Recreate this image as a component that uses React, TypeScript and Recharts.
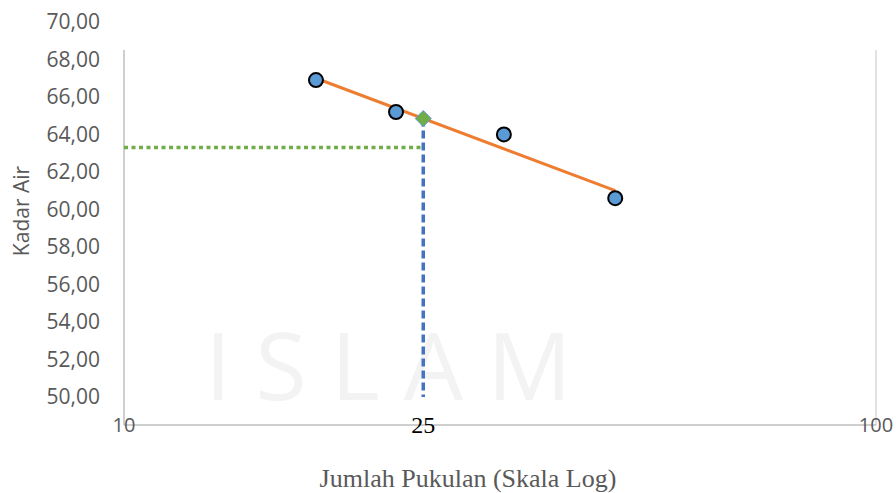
import { ComposedChart, Scatter, Line, XAxis, YAxis, ReferenceLine, Label } from 'recharts';

// hasil uji batas cair (jumlah pukulan vs kadar air)
const blows = [18, 23, 32, 45];
const moisture = [66.9, 65.2, 64.0, 60.6];

// garis trend (log)
const trendX = [18, 45];
const trendY = [67.0, 61.0];

// titik pada 25 pukulan
const targetBlow = 25;
const targetOnTrend = 64.85;
const liquidLimit = 63.3;

const xTicks = [10, 25, 100];
const yTicks = [50, 52, 54, 56, 58, 60, 62, 64, 66, 68, 70];

const points = blows.map((b, i) => ({ x: b, y: moisture[i] }));
const trend = trendX.map((t, i) => ({ x: t, y: trendY[i] }));
const marker = [{ x: targetBlow, y: targetOnTrend }];
const hLine = [{ x: 10, y: liquidLimit }, { x: targetBlow, y: liquidLimit }];
const vLine = [{ x: targetBlow, y: targetOnTrend }, { x: targetBlow, y: 50 }];

const gray = '#595959';
const sans = '"Open Sans", "DejaVu Sans", sans-serif';
const serif = '"Liberation Serif", "Times New Roman", serif';

const XTick = (props: any) => {
  const { x, y, payload } = props;
  const is25 = payload.value === targetBlow;
  return (
    <text
      x={x}
      y={y}
      dy="0.35em"
      textAnchor="middle"
      fill={is25 ? '#000' : gray}
      fontSize={is25 ? 24 : 20}
      fontFamily={is25 ? serif : sans}
    >
      {payload.value}
    </text>
  );
};

const Dot = (props: any) => (
  <circle cx={props.cx} cy={props.cy} r={7} fill="#5b9bd5" stroke="#000" strokeWidth={2} />
);

const Diamond = (props: any) => {
  const { cx, cy } = props;
  const s = 8;
  return (
    <polygon
      points={`${cx},${cy - s} ${cx + s},${cy} ${cx},${cy + s} ${cx - s},${cy}`}
      fill="#70ad47"
      stroke="#5b9bd5"
      strokeWidth={1}
    />
  );
};

export default function App() {
  return (
    <div style={{ position: 'absolute', left: 0, top: 0, width: 896, height: 493, background: '#fff' }}>
      <div
        style={{
          position: 'absolute',
          left: 205,
          top: 318,
          fontFamily: sans,
          fontSize: 94,
          letterSpacing: 24,
          color: '#f3f3f3',
          lineHeight: '92px',
        }}
      >
        ISLAM
      </div>
      <ComposedChart
        width={896}
        height={493}
        style={{ position: 'absolute', left: 0, top: 0 }}
        margin={{ top: 22, right: 20, left: 64, bottom: 38 }}
      >
        <XAxis
          dataKey="x"
          type="number"
          scale="log"
          domain={[10, 100]}
          ticks={xTicks}
          interval={0}
          allowDataOverflow
          tickLine={false}
          tickSize={0}
          tickMargin={0}
          height={30}
          axisLine={{ stroke: '#bfbfbf', strokeWidth: 1.5 }}
          tick={<XTick />}
        >
          <Label
            content={() => (
              <text x={468} y={478} dy="0.35em" textAnchor="middle" fill={gray} fontSize={26} fontFamily={serif}>
                Jumlah Pukulan (Skala Log)
              </text>
            )}
          />
        </XAxis>
        <YAxis
          dataKey="y"
          type="number"
          domain={[48.5, 70]}
          ticks={yTicks}
          interval={0}
          allowDataOverflow
          width={60}
          axisLine={false}
          tickLine={false}
          tickSize={0}
          tickMargin={24}
          tick={{ fill: gray, fontSize: 21, fontFamily: sans }}
          tickFormatter={(v: number) => v.toFixed(2).replace('.', ',')}
        >
          <Label
            content={() => (
              <text
                x={22}
                y={211}
                dy="0.35em"
                textAnchor="middle"
                fill={gray}
                fontSize={21}
                fontFamily={sans}
                transform="rotate(-90 22 211)"
              >
                Kadar Air
              </text>
            )}
          />
        </YAxis>
        <ReferenceLine segment={[{ x: 10, y: 48.5 }, { x: 10, y: 68.5 }]} stroke="#bfbfbf" strokeWidth={1.5} />
        <ReferenceLine segment={[{ x: 100, y: 48.5 }, { x: 100, y: 68.5 }]} stroke="#d9d9d9" strokeWidth={1.5} />
        <Line
          data={hLine}
          dataKey="y"
          stroke="#70ad47"
          strokeWidth={3.5}
          strokeDasharray="4 3.5"
          dot={false}
          isAnimationActive={false}
        />
        <Line
          data={vLine}
          dataKey="y"
          stroke="#4472c4"
          strokeWidth={3.5}
          strokeDasharray="8 4"
          dot={false}
          isAnimationActive={false}
        />
        <Line data={trend} dataKey="y" stroke="#ed7d31" strokeWidth={3} dot={false} isAnimationActive={false} />
        <Scatter data={points} dataKey="y" shape={<Dot />} isAnimationActive={false} />
        <Scatter data={marker} dataKey="y" shape={<Diamond />} isAnimationActive={false} />
      </ComposedChart>
    </div>
  );
}
